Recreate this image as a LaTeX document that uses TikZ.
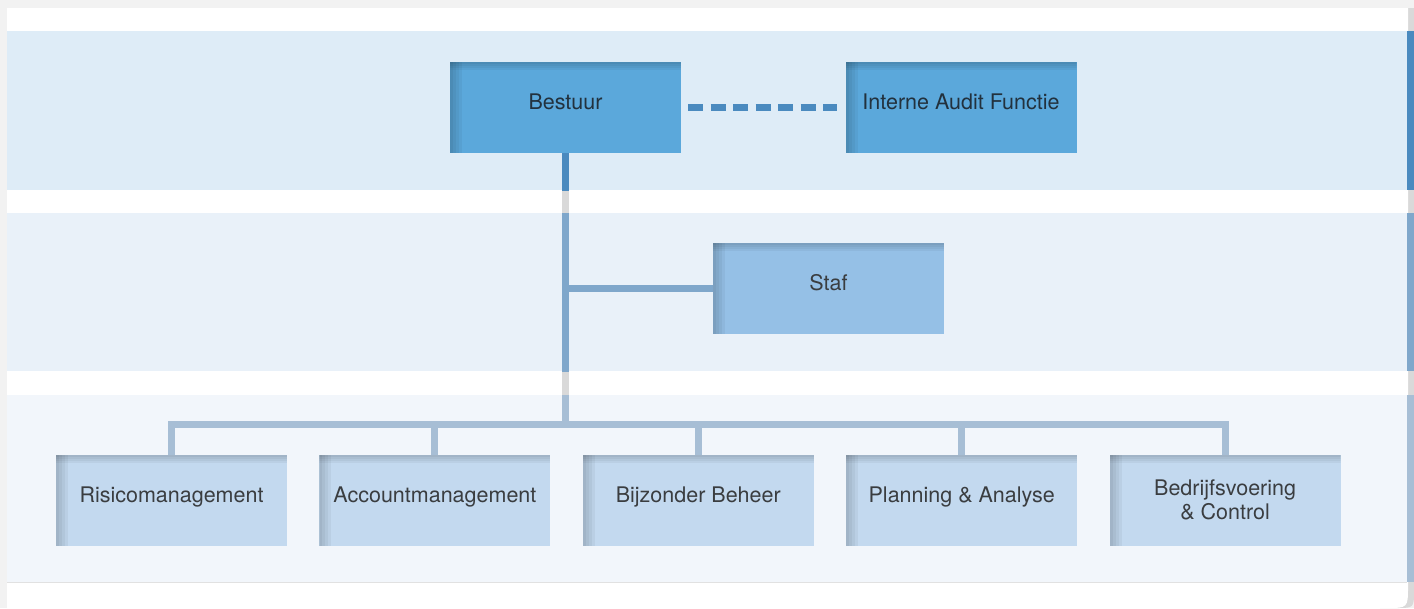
\documentclass[tikz,border=0pt]{standalone}
\usepackage{fontspec}
\setmainfont{TeX Gyre Heros}
\usetikzlibrary{positioning}

\begin{document}
\begin{tikzpicture}[x=1pt, y=-1pt,
    unit/.style={draw=none, minimum width=231pt, minimum height=91pt,
        inner sep=0pt, text height=16pt, text depth=12pt, align=center,
        font=\fontsize{21.5}{24}\selectfont},
    boxfill/.style={fill=#1, path picture={
        \foreach \w in {3,6,9,12}
            \fill[black, opacity=0.045] (path picture bounding box.north west)
                rectangle ([xshift=\w pt]path picture bounding box.south west);
        \foreach \w in {2,4,6,8}
            \fill[black, opacity=0.045] (path picture bounding box.north west)
                rectangle ([yshift=-\w pt]path picture bounding box.north east);
    }},
    link/.style={line width=7pt, line join=miter},
]
    \definecolor{tab_shadow}{HTML}{F2F2F2}
    \definecolor{band_top}{HTML}{DEECF7}
    \definecolor{band_mid}{HTML}{E9F1F9}
    \definecolor{band_low}{HTML}{F2F6FB}
    \definecolor{line_gap}{HTML}{D9D9D9}
    \definecolor{line_top}{HTML}{4A8ABF}
    \definecolor{line_mid}{HTML}{7FA7CB}
    \definecolor{line_low}{HTML}{A7BED5}
    \definecolor{box_dark}{HTML}{5BA8DB}
    \definecolor{box_mid}{HTML}{95C0E6}
    \definecolor{box_light}{HTML}{C3D9EF}
    \definecolor{text_dark}{HTML}{22313D}
    \definecolor{text_grey}{HTML}{3A3D40}
    \useasboundingbox (0,0) rectangle (1414,608);

    % card
    \fill[tab_shadow] (0,0) rectangle (1414,608);
    \fill[line_gap] (1407,8) -- (1414,8) -- (1414,590) .. controls (1414,608) .. (1396,608) -- (1380,608) -- cycle;
    \fill[white] (7,8) -- (1408,8) -- (1408,586) .. controls (1408,608) .. (1386,608) -- (7,608) -- cycle;
    \draw[line_gap!70, line width=1pt] (7,31) -- (1407,31);
    \foreach \ya/\yb/\col/\edge in {31/190/band_top/line_top, 213/371/band_mid/line_mid, 395/582/band_low/line_low} {
        \fill[\col] (7,\ya) rectangle (1407,\yb);
        \fill[\edge] (1407,\ya) rectangle (1414,\yb);
    }
    \draw[line_gap!80, line width=1.2pt] (7,582.5) -- (1407,582.5);

    % units
    \node[unit, boxfill=box_dark, text=text_dark] (bestuur) at (565.5,107.5) {Bestuur};
    \node[unit, boxfill=box_dark, text=text_dark] (audit) at (961,107.5) {Interne Audit Functie};
    \node[unit, boxfill=box_mid, text=text_grey] (staf) at (828.5,288.5) {Staf};
    \node[unit, boxfill=box_light, text=text_grey] (risico) at (171.5,500.5) {Risicomanagement};
    \node[unit, boxfill=box_light, text=text_grey, right=32pt of risico] (account) {Accountmanagement};
    \node[unit, boxfill=box_light, text=text_grey, right=32pt of account] (bijzonder) {Bijzonder Beheer};
    \node[unit, boxfill=box_light, text=text_grey, right=32pt of bijzonder] (planning) {Planning \& Analyse};
    \node[unit, boxfill=box_light, text=text_grey, right=32pt of planning, text height=40pt, text depth=3pt] (bedrijf) {Bedrijfsvoering\\\& Control};
    \coordinate (bar) at (565.5,424.5);

    % lines
    \draw[line_top, line width=7.5pt, dash pattern=on 15pt off 7.5pt]
        ([xshift=7pt]bestuur.east) -- ([xshift=-8pt]audit.west);
    \foreach \ya/\yb/\col in {0/608/line_gap, 31/190/line_top, 213/371/line_mid, 395/582/line_low} {
        \begin{scope}
            \clip (0,\ya) rectangle (1414,\yb);
            \draw[link, \col] (bestuur.south) -- (bestuur.south |- bar);
            \draw[link, \col] (bestuur.south |- staf.west) -- (staf.west);
            \draw[link, \col] (risico.north) -- (risico.north |- bar) -- (bedrijf.north |- bar) -- (bedrijf.north);
            \foreach \n in {account, bijzonder, planning}
                \draw[link, \col] (\n.north) -- (\n.north |- bar);
        \end{scope}
    }
\end{tikzpicture}
\end{document}
